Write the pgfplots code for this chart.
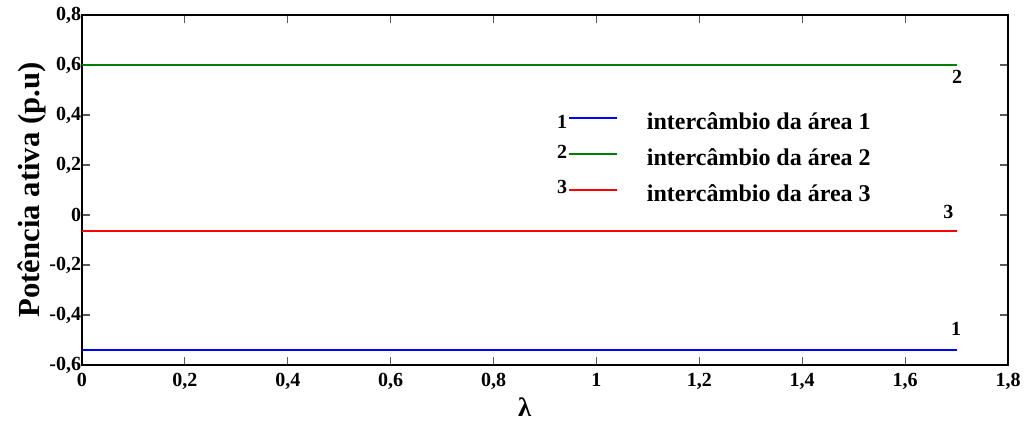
\documentclass[border=0pt]{standalone}
\usepackage{pgfplots}
\pgfplotsset{compat=1.18}
\usepackage{fontspec}
\setmainfont{Liberation Serif}

\definecolor{lblue}{RGB}{0,0,255}
\definecolor{lgreen}{RGB}{0,128,0}
\definecolor{lred}{RGB}{255,0,0}

\newcommand{\ticksize}{\fontsize{15}{17}\selectfont\bfseries}
\newcommand{\legsize}{\fontsize{18}{21}\selectfont\bfseries}

\pgfplotsset{
  numleg/.style 2 args={legend image code/.code={\draw[##1] (0pt,4pt) -- (36pt,4pt);
    \node[overlay, anchor=east, inner sep=0.5pt, text=black, font=\ticksize] at (0pt,#2) {#1};}},
}

\begin{document}
\begin{tikzpicture}
\begin{axis}[
    scale only axis,
    width=694.5pt, height=262.5pt,
    xmin=0, xmax=1.8, ymin=-0.6, ymax=0.8,
    xtick={0,0.2,...,1.8}, ytick={-0.6,-0.4,...,0.8},
    /pgf/number format/.cd, use comma, assume math mode=true,
    /pgfplots/.cd,
    axis line style={line width=1.5pt},
    tick align=inside,
    major tick length=6pt,
    tick style={line width=0.8pt, color=black!65},
    tick label style={font=\ticksize},
    yticklabel style={anchor=east, inner sep=0pt, xshift=-0.5pt},
    xticklabel style={anchor=north, inner sep=0pt, yshift=-6pt},
    every axis y label/.style={at={(axis description cs:0,0.5)}, xshift=-37.5pt, rotate=90, anchor=center, font=\fontsize{23}{26}\selectfont\bfseries},
    every axis x label/.style={at={(axis description cs:0.478,0)}, yshift=-31.5pt, anchor=center, font=\fontsize{20}{23}\selectfont\bfseries},
    ylabel={Potência ativa (p.u)},
    xlabel={λ},
    legend cell align=left,
    legend style={at={(axis cs:0.944,0.412)}, anchor=north west, draw=none, fill=none,
      inner sep=0pt, font=\legsize, row sep=10pt, column sep=22pt,
      nodes={inner sep=0pt, text height=13pt, text depth=4pt}},
]
\addplot[color=lblue, line width=1.3pt, numleg={1}{1pt}]
  coordinates {(0,-0.54) (1.7,-0.54)};
\addlegendentry{intercâmbio da área 1}
\addplot[color=lgreen, line width=1.3pt, numleg={2}{5pt}]
  coordinates {(0,0.6) (1.7,0.6)};
\addlegendentry{intercâmbio da área 2}
\addplot[color=lred, line width=1.3pt, numleg={3}{6pt}]
  coordinates {(0,-0.064) (1.7,-0.064)};
\addlegendentry{intercâmbio da área 3}
\node[font=\ticksize] at (axis cs:1.701,0.552) {2};
\node[font=\ticksize] at (axis cs:1.684,0.012) {3};
\node[font=\ticksize] at (axis cs:1.699,-0.456) {1};
\end{axis}
\pgfresetboundingbox
\path[use as bounding box] ([xshift=-61.5pt,yshift=-42pt]current axis.south west) rectangle ([xshift=18pt,yshift=11.25pt]current axis.north east);
\end{tikzpicture}
\end{document}
